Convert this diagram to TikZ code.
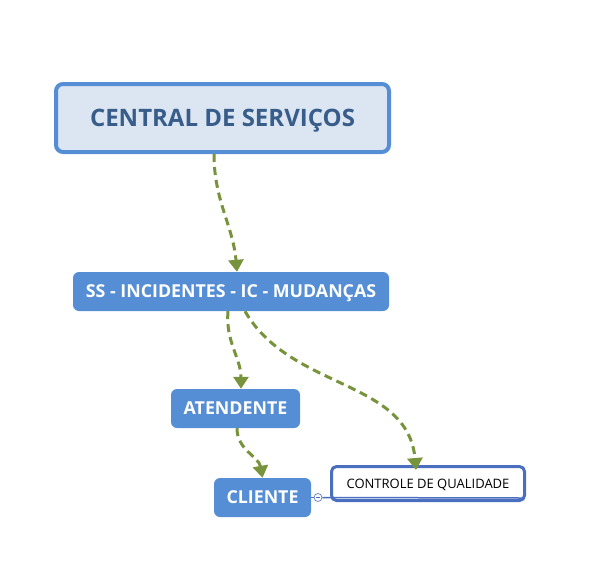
\documentclass[tikz,border=0pt]{standalone}
\usepackage{fontspec}
\setmainfont{Open Sans}
\usepackage{tikz}
\usetikzlibrary{positioning, arrows.meta}
\definecolor{boxblue}{HTML}{558ED5}
\definecolor{paleblue}{HTML}{DCE6F2}
\definecolor{darkblue}{HTML}{385D8A}
\definecolor{noteblue}{HTML}{4A6FBF}
\definecolor{linkgreen}{HTML}{77933C}

\begin{document}
\begin{tikzpicture}[x=1pt, y=1pt,
	mainbox/.style={rectangle, rounded corners=7pt, draw=boxblue, line width=4pt, fill=paleblue,
		text=darkblue, font=\fontsize{24}{27}\selectfont\bfseries, text height=17pt, text depth=0pt,
		minimum width=333pt, minimum height=68pt},
	topicbox/.style={rectangle, rounded corners=6pt, fill=boxblue, text=white,
		font=\fontsize{17.8}{20}\selectfont\bfseries, text height=12.7pt, text depth=0pt, minimum height=39pt},
	notebox/.style={rectangle, rounded corners=5pt, draw=noteblue, line width=3pt, fill=white,
		font=\fontsize{13}{15}\selectfont, text height=9.3pt, text depth=0pt,
		minimum width=193pt, minimum height=34pt},
	link/.style={draw=linkgreen, line width=3pt, dash pattern=on 8pt off 5pt,
		-{Triangle[width=15pt, length=12pt]}}]
	\useasboundingbox (0,0) rectangle (593,-586);
	\node[mainbox] (central) at (222.5,-118) {CENTRAL DE SERVIÇOS};
	\node[topicbox, minimum width=316pt] (ss) at (231,-291.5) {SS - INCIDENTES - IC - MUDANÇAS};
	\node[topicbox, minimum width=129pt] (atendente) at (235.5,-408.5) {ATENDENTE};
	\node[topicbox, minimum width=97pt] (cliente) at (262.5,-497.5) {CLIENTE};
	\node[notebox] (controle) at (428,-483.5) {CONTROLE DE QUALIDADE};
	% collapse button and underline of the note
	\node[circle, draw=noteblue, fill=white, line width=0.6pt, inner sep=0pt, minimum size=8pt] (btn) at (318,-497.5) {};
	\draw[noteblue, line width=0.6pt] ([xshift=-2pt]btn.center) -- ([xshift=2pt]btn.center);
	\draw[noteblue, line width=0.6pt] (cliente.east) -- (btn.west);
	\draw[noteblue, line width=1.5pt] (btn.east) -- ([xshift=-4pt,yshift=4pt]controle.south east);
	% links
	\draw[link] ([xshift=-8.5pt]central.south) to[out=-90, in=95] ([xshift=6pt]ss.north);
	\draw[link] ([xshift=-3pt]ss.south) to[out=-95, in=90] ([xshift=5.5pt]atendente.north);
	\draw[link] ([xshift=14pt]ss.south) to[out=-60, in=95] ([xshift=-12pt, yshift=-5pt]controle.north);
	\draw[link] ([xshift=1.5pt]atendente.south) to[out=-90, in=100] (cliente.north);
\end{tikzpicture}
\end{document}
